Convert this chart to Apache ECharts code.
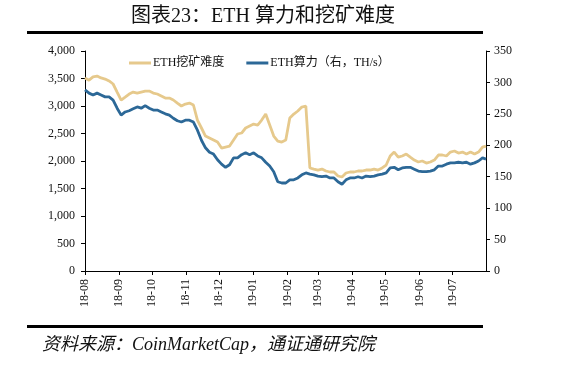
<!DOCTYPE html>
<html>
<head>
<meta charset="utf-8">
<script src="https://cdn.jsdelivr.net/npm/echarts@6/dist/echarts.min.js"></script>
<style>
  html, body { margin: 0; padding: 0; background: #fff; }
  #main { width: 575px; height: 375px; }
</style>
</head>
<body>
<div id="main"></div>
<script>
// ETH 挖矿难度 (left axis)
const difficulty = [
  3510, 3470, 3530, 3545, 3510, 3490, 3455, 3400, 3254, 3109,
  3163, 3218, 3254, 3236, 3254, 3272, 3272, 3236, 3218, 3182,
  3145, 3145, 3109, 3054, 3000, 3036, 3054, 3018, 2745, 2600,
  2454, 2418, 2382, 2345, 2236, 2254, 2272, 2382, 2491, 2509,
  2600, 2636, 2672, 2654, 2745, 2854, 2654, 2454, 2363, 2345,
  2382, 2781, 2854, 2909, 2981, 3000, 1873, 1854, 1836, 1854,
  1818, 1800, 1800, 1727, 1709, 1782, 1800, 1800, 1818, 1818,
  1836, 1836, 1854, 1836, 1873, 1927, 2091, 2163, 2072, 2091,
  2127, 2072, 2018, 1982, 2000, 1963, 1982, 2018, 2109, 2109,
  2091, 2163, 2182, 2145, 2163, 2127, 2163, 2127, 2163, 2254,
  2272
]
// ETH 算力 TH/s (right axis)
const hashrate = [
  288, 283, 280, 283, 280, 277, 277, 272, 259, 248,
  253, 255, 258, 261, 259, 263, 259, 256, 256, 253,
  250, 248, 243, 239, 237, 240, 240, 237, 224, 208,
  196, 189, 186, 177, 170, 165, 169, 180, 180, 185,
  188, 185, 188, 183, 180, 173, 167, 158, 142, 140,
  140, 145, 145, 148, 153, 156, 154, 153, 151, 150,
  151, 148, 148, 142, 138, 145, 148, 148, 150, 148,
  151, 150, 151, 153, 154, 156, 164, 165, 161, 164,
  165, 165, 162, 159, 158, 158, 159, 161, 167, 167,
  170, 172, 172, 173, 172, 173, 170, 172, 175, 180,
  178
]
const leftTicks = [0, 4000, 500]
const rightTicks = [0, 350, 50]

// sample dates: roughly every 3.65 days from 2018-08-01
const startDate = new Date(2018, 7, 1).getTime()
const endDate = new Date(2019, 6, 31, 12).getTime()
const dates = difficulty.map((_, i) => Math.min(startDate + i * 3.65 * 86400000, endDate))

const serif = '"Liberation Serif", "Times New Roman", "Noto Sans CJK SC", serif'

const chartDom = document.getElementById('main')
const myChart = echarts.init(chartDom)

const option = {
  animation: false,
  backgroundColor: '#fff',
  title: {
    text: '图表23：ETH 算力和挖矿难度',
    left: 126,
    top: 2,
    textStyle: { fontFamily: serif, fontSize: 20, fontWeight: 'normal', color: '#111' }
  },
  graphic: [
    { type: 'rect', shape: { x: 27, y: 31, width: 456, height: 3 }, style: { fill: '#000' } },
    { type: 'rect', shape: { x: 27, y: 325, width: 456, height: 3 }, style: { fill: '#000' } },
    {
      type: 'text', left: 42, top: 336,
      style: {
        text: '资料来源：CoinMarketCap，通证通研究院',
        font: 'italic 18px ' + serif,
        fill: '#111'
      }
    }
  ],
  legend: {
    top: 52,
    left: 124,
    itemGap: 22,
    itemWidth: 22,
    itemHeight: 3,
    icon: 'rect',
    textStyle: { fontFamily: serif, fontSize: 12, color: '#111', padding: [0, 0, 0, -3] },
    data: ['ETH挖矿难度', 'ETH算力（右，TH/s）']
  },
  grid: { left: 85, right: 89, top: 51, bottom: 104, containLabel: false },
  xAxis: {
    type: 'time',
    min: startDate,
    max: endDate,
    splitNumber: 12,
    minInterval: 28 * 86400000,
    maxInterval: 31 * 86400000,
    axisLine: { lineStyle: { color: '#000', width: 1 } },
    axisTick: { show: true, length: 4, lineStyle: { color: '#000' } },
    splitLine: { show: false },
    axisLabel: {
      rotate: 90,
      color: '#111',
      fontFamily: serif,
      fontSize: 12,
      margin: 8,
      formatter: (val) => {
        const d = new Date(val)
        const yy = String(d.getFullYear()).slice(2)
        const mm = String(d.getMonth() + 1).padStart(2, '0')
        return yy + '-' + mm
      }
    }
  },
  yAxis: [
    {
      type: 'value',
      min: leftTicks[0], max: leftTicks[1], interval: leftTicks[2],
      axisLine: { show: true, lineStyle: { color: '#000' } },
      axisTick: { show: true, length: 4, lineStyle: { color: '#000' } },
      splitLine: { show: false },
      axisLabel: {
        color: '#111', fontFamily: serif, fontSize: 12, margin: 10,
        formatter: (v) => v.toLocaleString('en-US')
      }
    },
    {
      type: 'value',
      min: rightTicks[0], max: rightTicks[1], interval: rightTicks[2],
      axisLine: { show: true, lineStyle: { color: '#000' } },
      axisTick: { show: true, length: 4, lineStyle: { color: '#000' } },
      splitLine: { show: false },
      axisLabel: { color: '#111', fontFamily: serif, fontSize: 12, margin: 8 }
    }
  ],
  series: [
    {
      name: 'ETH挖矿难度',
      type: 'line',
      yAxisIndex: 0,
      showSymbol: false,
      color: '#E6C98C',
      lineStyle: { width: 2.8, color: '#E6C98C' },
      data: dates.map((d, i) => [d, difficulty[i]])
    },
    {
      name: 'ETH算力（右，TH/s）',
      type: 'line',
      yAxisIndex: 1,
      showSymbol: false,
      color: '#2C6897',
      lineStyle: { width: 2.8, color: '#2C6897' },
      data: dates.map((d, i) => [d, hashrate[i]])
    }
  ]
}

option && myChart.setOption(option)
</script>
</body>
</html>
